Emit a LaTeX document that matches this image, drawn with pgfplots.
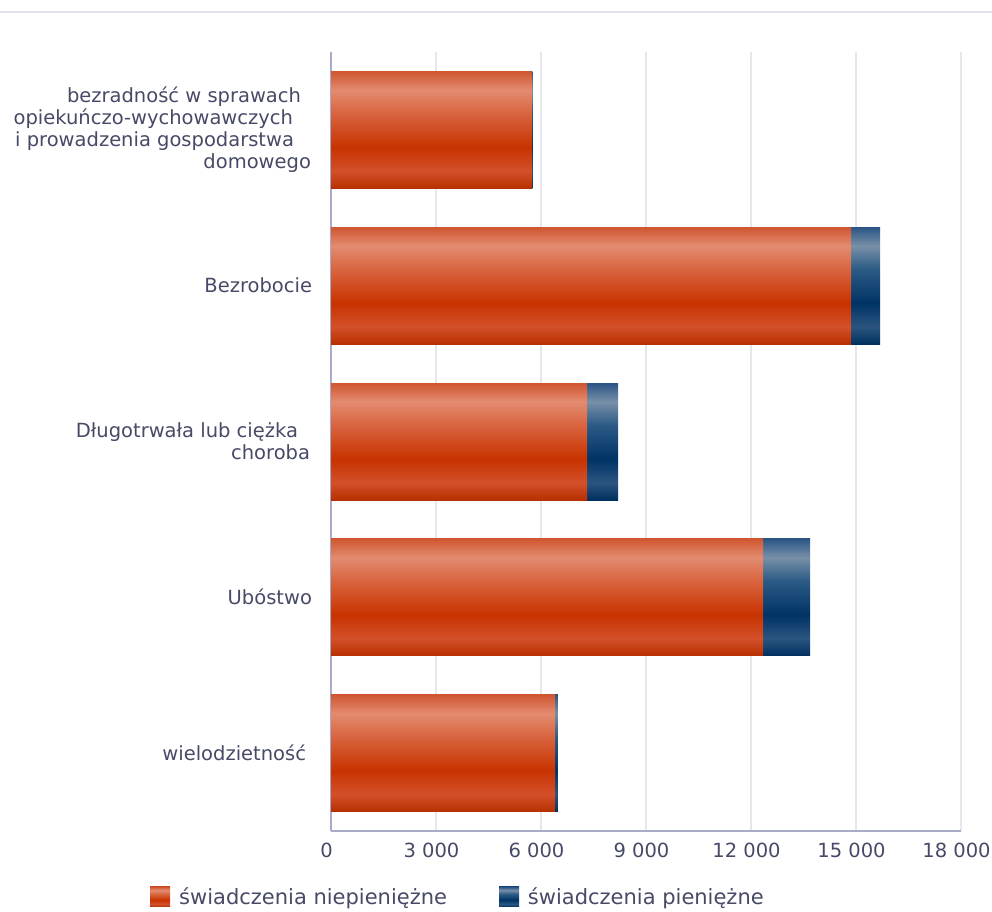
\documentclass[border=0pt]{standalone}
\usepackage{pgfplots}
\pgfplotsset{compat=1.18}
\usepackage{fontspec}
\setmainfont{DejaVu Sans}

\definecolor{labelcol}{HTML}{474A66}
\definecolor{axiscol}{HTML}{A8ACC6}
\definecolor{gridcol}{HTML}{E6E6EE}
\definecolor{topline}{HTML}{E2E2EA}
% red bar gradient
\definecolor{rb0}{HTML}{B83000}
\definecolor{rb1}{HTML}{D2502A}
\definecolor{rb2}{HTML}{C83300}
\definecolor{rb3}{HTML}{D8643F}
\definecolor{rb4}{HTML}{E38B70}
\definecolor{rb5}{HTML}{CF5630}
% blue bar gradient
\definecolor{bb0}{HTML}{00305F}
\definecolor{bb1}{HTML}{2B5580}
\definecolor{bb2}{HTML}{003366}
\definecolor{bb3}{HTML}{2B5A85}
\definecolor{bb4}{HTML}{7890A8}
\definecolor{bb5}{HTML}{2A5585}

\pgfdeclareverticalshading{redbar}{100bp}{color(0bp)=(rb0); color(25bp)=(rb0);
  color(32.5bp)=(rb1); color(42.5bp)=(rb2); color(57bp)=(rb3); color(67bp)=(rb4);
  color(75bp)=(rb5); color(100bp)=(rb5)}
\pgfdeclareverticalshading{bluebar}{100bp}{color(0bp)=(bb0); color(25bp)=(bb0);
  color(32.5bp)=(bb1); color(42.5bp)=(bb2); color(57bp)=(bb3); color(67bp)=(bb4);
  color(75bp)=(bb5); color(100bp)=(bb5)}

\pgfplotsset{
  onebar/.style={xbar, bar width=117bp, bar shift=0pt, draw=none, shade, shading=#1,
    legend image code/.code={
      \path[shade, shading=#1] (0bp,-10bp) rectangle (20bp,10bp);
      \path (27bp,0bp);}},
}
% invisible trailing room at the end of a label line
\newcommand{\gap}[1]{\rule{#1}{0pt}}

\begin{document}
\begin{tikzpicture}[x=1bp,y=1bp]
\useasboundingbox (0,0) rectangle (992,912);
\draw[topline, line width=2bp] (0,900) -- (992,900);
\begin{axis}[
    at={(331bp,81bp)}, anchor=south west,
    scale only axis, width=630bp, height=779bp,
    xmin=0, xmax=18000, ymin=-0.5, ymax=4.5, y dir=reverse,
    scaled x ticks=false,
    xtick={0,3000,6000,9000,12000,15000,18000},
    xticklabels={0,3 000,6 000,9 000,12 000,15 000,18 000},
    ytick={0,1,2,3,4},
    yticklabels={
        {bezradność w sprawach\gap{11bp}\\opiekuńczo-wychowawczych\gap{19bp}\\i prowadzenia gospodarstwa\gap{18bp}\\domowego\gap{1bp}},
        Bezrobocie,
        {Długotrwała lub ciężka\gap{14bp}\\choroba\gap{2bp}},
        Ubóstwo,
        wielodzietność\gap{6bp}},
    axis x line*=bottom, axis y line*=left,
    axis line style={axiscol, line width=1.5bp, -},
    major tick length=0pt, tick style={draw=none},
    xmajorgrids, grid style={gridcol, line width=1.5bp},
    ticklabel style={font=\fontsize{19.5bp}{22bp}\selectfont, text=labelcol},
    yticklabel style={align=right, xshift=-15.5bp},
    xticklabel style={yshift=-8bp, xshift=-4.5bp},
    legend style={draw=none, fill=none, legend columns=2,
        at={(-0.292,-0.0847)}, anchor=west,
        font=\fontsize{21bp}{24bp}\selectfont, text=labelcol,
        /tikz/every even column/.append style={column sep=50bp}},
    legend cell align=left,
    reverse legend,
]
% świadczenia pieniężne: whole bar length (niepieniężne + pieniężne)
\addplot[onebar=bluebar] coordinates {(5751,0)};
\addplot[onebar=bluebar, forget plot] coordinates {(15686,1)};
\addplot[onebar=bluebar, forget plot] coordinates {(8200,2)};
\addplot[onebar=bluebar, forget plot] coordinates {(13686,3)};
\addplot[onebar=bluebar, forget plot] coordinates {(6480,4)};
% świadczenia niepieniężne
\addplot[onebar=redbar] coordinates {(5723,0)};
\addplot[onebar=redbar, forget plot] coordinates {(14857,1)};
\addplot[onebar=redbar, forget plot] coordinates {(7314,2)};
\addplot[onebar=redbar, forget plot] coordinates {(12343,3)};
\addplot[onebar=redbar, forget plot] coordinates {(6400,4)};
\legend{świadczenia pieniężne, świadczenia niepieniężne}
\end{axis}
\end{tikzpicture}
\end{document}
